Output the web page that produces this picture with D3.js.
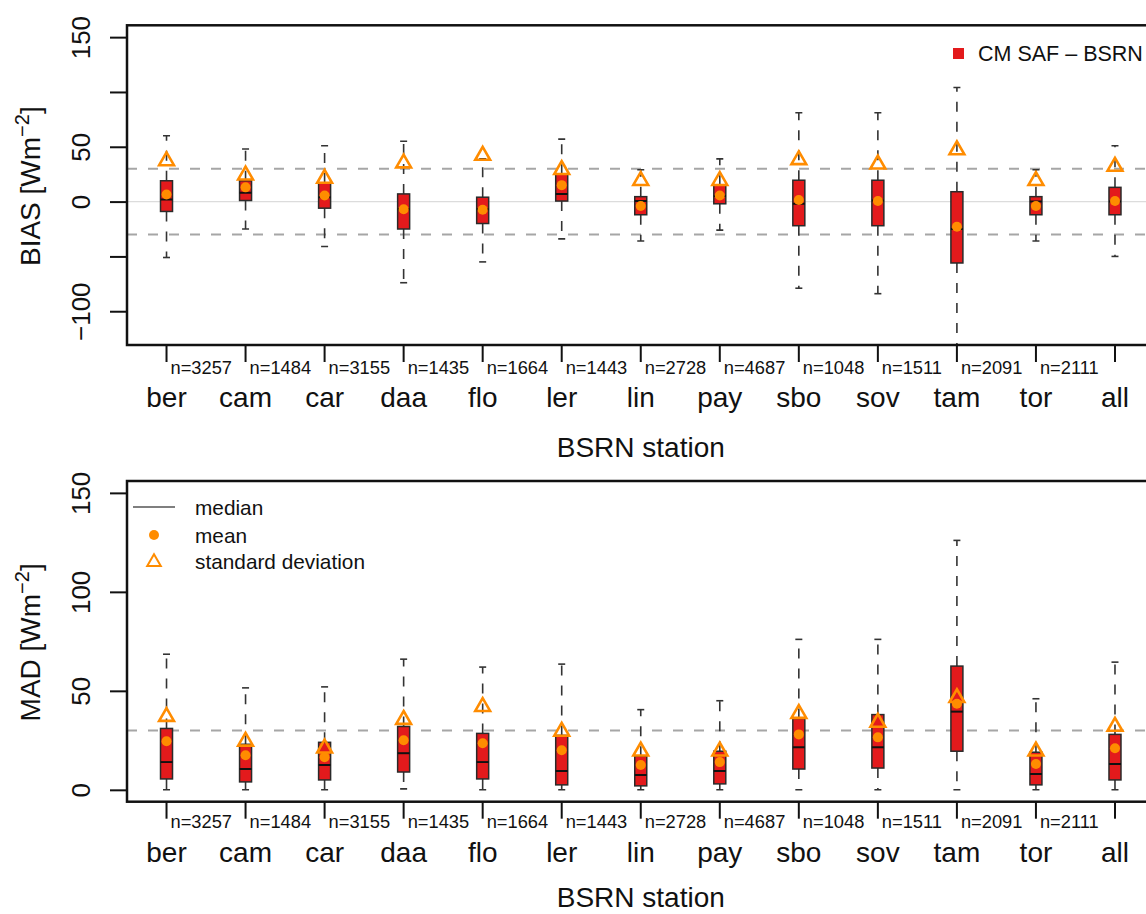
<!DOCTYPE html>
<html>
<head>
<meta charset="utf-8">
<script src="https://cdn.jsdelivr.net/npm/d3@7"></script>
<style>
  body { margin: 0; background: #fff; }
  svg { display: block; font-family: "Liberation Sans", Arial, Helvetica, sans-serif; }
</style>
</head>
<body>
<div id="chart"></div>
<script>
// stations and sample sizes (last station "all" has no n label)
const stations = ['ber', 'cam', 'car', 'daa', 'flo', 'ler', 'lin', 'pay', 'sbo', 'sov', 'tam', 'tor', 'all'];
const nObs = [3257, 1484, 3155, 1435, 1664, 1443, 2728, 4687, 1048, 1511, 2091, 2111];

// BIAS panel (CM SAF - BSRN), W/m2
const biasLow  = [-51, -25, -41, -74, -55, -34, -36, -26, -79, -84, -145, -36, -50];
const biasQ1   = [-9, 1, -6, -25, -20, 0.5, -12, -2, -22, -22, -56, -12, -12];
const biasMed  = [2, 8, 4, -7, -7, 7, 0.5, 5, -2, 1, -25, 0, 0];
const biasQ3   = [19, 19, 17, 7, 4, 25, 4.5, 15, 19.5, 19.5, 9, 4.5, 13];
const biasHigh = [60, 48, 51, 55, 39, 57, 29, 39, 81, 81, 104, 29, 51];
const biasMean = [6.5, 13, 5.5, -7, -7.5, 15, -4, 5.5, 1.5, 0.5, -23, -4, 0.5];
const biasSd   = [38, 25, 22, 36, 43, 30, 20, 20, 39, 35, 48, 20, 33];

// MAD panel, W/m2
const madLow  = [0, 0, 0, 0.5, 0, 0, 0, 0, 0, 0, 0, 0, 0];
const madQ1   = [5.5, 4, 5, 9, 5.5, 2.5, 2, 3, 10.5, 11, 19.5, 2.5, 5];
const madMed  = [14, 10.5, 12.5, 18.5, 14, 9.5, 7.5, 9.5, 21.5, 21.5, 39.5, 8, 13];
const madQ3   = [31, 23, 24, 32, 28.5, 27.5, 17, 19.5, 36, 38, 62.5, 19, 28];
const madHigh = [68.5, 51.5, 52, 66, 62, 63.5, 40.5, 45, 76, 76, 126, 46, 64.5];
const madMean = [24.5, 17.5, 16.5, 25, 23.5, 20, 12.5, 14, 28, 26.5, 43.5, 13, 21];
const madSd   = [37.5, 25, 21.5, 36, 42.5, 30, 20, 20, 39, 34.5, 47, 20, 32.5];

const biasTicks = [-100, -50, 0, 50, 100, 150];
const biasTickLabels = [-100, 0, 50, 150];
const madTicks = [0, 50, 100, 150];
const madTickLabels = [0, 50, 100, 150];

const width = 1146;
const height = 914;
const left = 127;
const right = 1154.5;
const red = '#e31a1c';
const orange = '#ff8c00';

const svg = d3.select('#chart')
  .append('svg')
  .attr('width', width)
  .attr('height', height);

const x = d3.scaleBand()
  .domain(stations)
  .range([left, right])
  .padding(0);
const cx = s => x(s) + x.bandwidth() / 2;

const fmt = v => v < 0 ? '\u2212' + Math.abs(v) : String(v);

function drawPanel(p) {
  const y = d3.scaleLinear().domain(p.yDomain).range([p.bottom, p.top]);

  svg.append('clipPath').attr('id', p.id)
    .append('rect')
    .attr('x', left).attr('y', p.top)
    .attr('width', right - left).attr('height', p.bottom - p.top);

  const plot = svg.append('g').attr('clip-path', `url(#${p.id})`);

  if (p.zeroLine) {
    plot.append('line')
      .attr('x1', left).attr('x2', right)
      .attr('y1', y(0)).attr('y2', y(0))
      .attr('stroke', '#dcdcdc').attr('stroke-width', 1.2);
  }

  plot.selectAll('.ref')
    .data(p.refLines)
    .enter().append('line')
    .attr('x1', left).attr('x2', right)
    .attr('y1', d => y(d)).attr('y2', d => y(d))
    .attr('stroke', '#a6a6a6').attr('stroke-width', 2)
    .attr('stroke-dasharray', '10,11');

  const hw = 6;   // half box width
  const cw = 3.5; // half cap width

  const boxes = plot.selectAll('.box')
    .data(stations.map((s, i) => ({
      s, lo: p.low[i], q1: p.q1[i], med: p.med[i], q3: p.q3[i], hi: p.high[i], mean: p.mean[i], sd: p.sd[i]
    })))
    .enter().append('g')
    .attr('class', 'box')
    .attr('transform', d => `translate(${cx(d.s)},0)`);

  // whiskers
  boxes.append('line')
    .attr('y1', d => y(d.q3)).attr('y2', d => y(d.hi))
    .attr('stroke', '#333').attr('stroke-width', 1.6).attr('stroke-dasharray', '10,10');
  boxes.append('line')
    .attr('y1', d => y(d.q1)).attr('y2', d => y(d.lo))
    .attr('stroke', '#333').attr('stroke-width', 1.6).attr('stroke-dasharray', '10,10');
  boxes.append('line')
    .attr('x1', -cw).attr('x2', cw)
    .attr('y1', d => y(d.hi)).attr('y2', d => y(d.hi))
    .attr('stroke', '#333').attr('stroke-width', 1.6);
  boxes.append('line')
    .attr('x1', -cw).attr('x2', cw)
    .attr('y1', d => y(d.lo)).attr('y2', d => y(d.lo))
    .attr('stroke', '#333').attr('stroke-width', 1.6);

  // box + median
  boxes.append('rect')
    .attr('x', -hw).attr('width', hw * 2)
    .attr('y', d => y(d.q3))
    .attr('height', d => y(d.q1) - y(d.q3))
    .attr('fill', red).attr('stroke', '#2a2a2a').attr('stroke-width', 1.5);
  boxes.append('line')
    .attr('x1', -hw).attr('x2', hw)
    .attr('y1', d => y(d.med)).attr('y2', d => y(d.med))
    .attr('stroke', '#111').attr('stroke-width', 2);

  // mean and standard deviation
  boxes.append('circle')
    .attr('cy', d => y(d.mean)).attr('r', 5)
    .attr('fill', orange);
  boxes.append('path')
    .attr('d', d3.symbol(d3.symbolTriangle, 95))
    .attr('transform', d => `translate(0,${y(d.sd) + 1})`)
    .attr('fill', 'none').attr('stroke', orange).attr('stroke-width', 2.6);

  // frame
  svg.append('rect')
    .attr('x', left).attr('y', p.top)
    .attr('width', right - left).attr('height', p.bottom - p.top)
    .attr('fill', 'none').attr('stroke', '#111').attr('stroke-width', 2.5);

  // y axis
  const yAxis = svg.append('g')
    .attr('transform', `translate(${left},0)`)
    .call(d3.axisLeft(y).tickValues(p.ticks).tickSize(17)
      .tickFormat(v => p.tickLabels.includes(v) ? fmt(v) : ''));
  yAxis.select('.domain').remove();
  yAxis.selectAll('.tick line').attr('stroke', '#111').attr('stroke-width', 2);
  yAxis.selectAll('.tick text')
    .attr('transform', 'rotate(-90)')
    .attr('x', 0).attr('y', 90 - left).attr('dy', null)
    .attr('text-anchor', 'middle')
    .attr('font-size', 26)
    .attr('fill', '#111');
  yAxis.attr('font-family', null).attr('font-size', null);

  // x axis
  const xAxis = svg.append('g')
    .attr('transform', `translate(0,${p.bottom})`)
    .call(d3.axisBottom(x).tickSize(17).tickFormat(d => d));
  xAxis.select('.domain').remove();
  xAxis.attr('font-family', null).attr('font-size', null);
  xAxis.selectAll('.tick line').attr('stroke', '#111').attr('stroke-width', 2);
  xAxis.selectAll('.tick text')
    .attr('y', p.nameOffset).attr('dy', null)
    .attr('font-size', 28)
    .attr('fill', '#111');

  svg.selectAll(null)
    .data(nObs)
    .enter().append('text')
    .attr('x', (d, i) => cx(stations[i]) + 4)
    .attr('y', p.bottom + p.nOffset)
    .attr('font-size', 18.3)
    .attr('fill', '#111')
    .text(d => 'n=' + d);

  svg.append('text')
    .attr('x', (left + right) / 2)
    .attr('y', p.bottom + p.titleOffset)
    .attr('text-anchor', 'middle')
    .attr('font-size', 28)
    .attr('fill', '#111')
    .text('BSRN station');

  // y label with superscript
  const yl = svg.append('text')
    .attr('transform', `translate(40,${(p.top + p.bottom) / 2 + 1}) rotate(-90)`)
    .attr('text-anchor', 'middle')
    .attr('font-size', 28)
    .attr('fill', '#111');
  yl.append('tspan').text(p.yLabel + ' [Wm');
  yl.append('tspan').attr('dy', -11).attr('font-size', 20).text('\u22122');
  yl.append('tspan').attr('dy', 11).text(']');

  return y;
}

drawPanel({
  id: 'clipBias', top: 25.3, bottom: 345, yDomain: [-130.8, 160.8],
  ticks: biasTicks, tickLabels: biasTickLabels, refLines: [-30, 30], zeroLine: true,
  low: biasLow, q1: biasQ1, med: biasMed, q3: biasQ3, high: biasHigh, mean: biasMean, sd: biasSd,
  yLabel: 'BIAS', nOffset: 29, nameOffset: 62, titleOffset: 112
});

drawPanel({
  id: 'clipMad', top: 481, bottom: 801.7, yDomain: [-6, 156],
  ticks: madTicks, tickLabels: madTickLabels, refLines: [30], zeroLine: false,
  low: madLow, q1: madQ1, med: madMed, q3: madQ3, high: madHigh, mean: madMean, sd: madSd,
  yLabel: 'MAD', nOffset: 26.5, nameOffset: 60.5, titleOffset: 105
});

// legend, top panel
svg.append('rect')
  .attr('x', 953).attr('y', 48).attr('width', 11).attr('height', 11)
  .attr('fill', red);
svg.append('text')
  .attr('x', 978).attr('y', 61)
  .attr('font-size', 21.5).attr('fill', '#111')
  .text('CM SAF \u2013 BSRN');

// legend, bottom panel
const legendRows = ['median', 'mean', 'standard deviation'];
const legendY = [507, 535, 561];
svg.append('line')
  .attr('x1', 133).attr('x2', 175).attr('y1', legendY[0]).attr('y2', legendY[0])
  .attr('stroke', '#555').attr('stroke-width', 1.6);
svg.append('circle')
  .attr('cx', 154).attr('cy', legendY[1]).attr('r', 5)
  .attr('fill', orange);
svg.append('path')
  .attr('d', d3.symbol(d3.symbolTriangle, 80))
  .attr('transform', `translate(154,${legendY[2] + 1})`)
  .attr('fill', 'none').attr('stroke', orange).attr('stroke-width', 2);
svg.selectAll(null)
  .data(legendRows)
  .enter().append('text')
  .attr('x', 195)
  .attr('y', (d, i) => legendY[i] + 8)
  .attr('font-size', 20.8).attr('fill', '#111')
  .text(d => d);
</script>
</body>
</html>
